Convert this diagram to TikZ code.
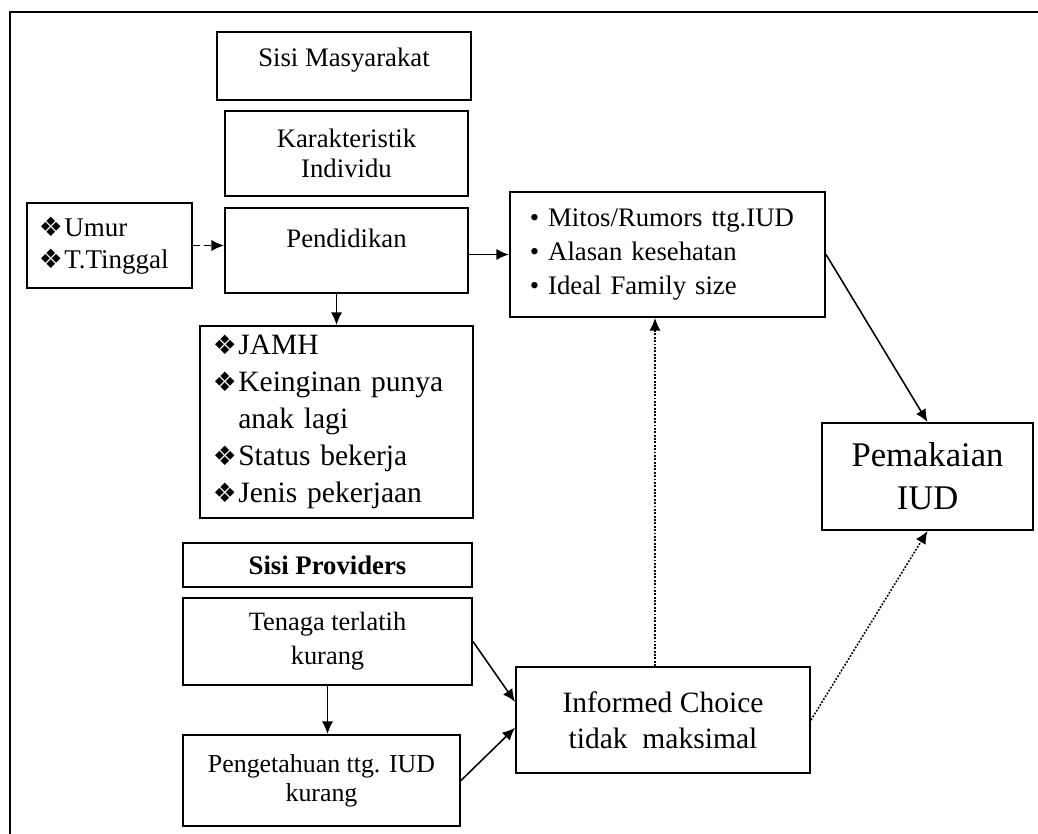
\documentclass[tikz,border=0pt]{standalone}
\usepackage{fontspec}
\setmainfont{Liberation Serif}
\newfontfamily\symfont{DejaVu Sans}
\usetikzlibrary{arrows.meta,positioning}
\newcommand\pix{0.025cm}
\newcommand\dia{{\symfont\fontsize{19}{19}\selectfont\char"2756}\hspace{1pt}}

\begin{document}
\begin{tikzpicture}[x=\pix,y=-\pix,every node/.style={font=\fontsize{19}{23}\selectfont},
  box/.style={draw,line width=1.4pt,align=center,inner sep=0pt},
  lbox/.style={box,align=left},
  arr/.style={-{Latex[length=9pt,width=8pt]},line width=1.1pt},
  dotarr/.style={arr,dash pattern=on 1.3pt off 1.1pt}]
\useasboundingbox (0,0) rectangle (1038,834);
\draw[line width=1.5pt] (10,834) -- (10,12) -- (1038,12);
% sisi masyarakat
\node[box,minimum width=254*\pix,minimum height=68*\pix,text depth=12.5pt] (masy) at (344,66) {Sisi Masyarakat};
\node[box,minimum width=243*\pix,minimum height=85*\pix,font=\fontsize{19}{21.3}\selectfont] (kar) at (346.5,153.5) {Karakteristik\\Individu};
\node[box,minimum width=243*\pix,minimum height=85*\pix,text depth=17pt] (pend) at (346.5,250.5) {Pendidikan};
\node[lbox,text width=3.525cm,inner xsep=0.3cm,minimum height=85*\pix,font=\fontsize{19.2}{22.7}\selectfont] (umur) at (109.5,245.5) {\dia Umur\\\dia T.Tinggal};
\node[lbox,text width=6.875cm,inner xsep=0.5cm,minimum height=125*\pix,font=\fontsize{19}{24}\selectfont] (mitos) at (667.5,254.5) {• Mitos/Rumors ttg.IUD\\• Alasan kesehatan\\• Ideal Family size};
\node[lbox,text width=6.175cm,inner xsep=0.325cm,minimum height=192*\pix,font=\fontsize{21}{26.2}\selectfont] (jamh) at (336.5,422) {\dia JAMH\\\dia Keinginan punya\\\phantom{\dia}anak lagi\\\dia Status bekerja\\\dia Jenis pekerjaan};
% sisi providers
\node[box,minimum width=289*\pix,minimum height=44*\pix,font=\fontsize{19}{23}\selectfont\bfseries] (prov) at (327.5,565) {Sisi Providers};
\node[box,minimum width=289*\pix,minimum height=87*\pix,font=\fontsize{18.8}{24}\selectfont] (tenaga) at (327.5,641.5) {Tenaga terlatih\\kurang};
\node[box,minimum width=277*\pix,minimum height=91*\pix,font=\fontsize{18.4}{20.5}\selectfont] (penget) at (321.5,780.5) {Pengetahuan ttg. IUD\\kurang};
\node[box,minimum width=294*\pix,minimum height=106*\pix,font=\fontsize{21}{25.5}\selectfont] (inform) at (663,720) {Informed Choice\\tidak\ \ maksimal};
\node[box,minimum width=211*\pix,minimum height=107*\pix,font=\fontsize{24.6}{30.5}\selectfont] (pemak) at (927.5,476.5) {Pemakaian\\IUD};
% arrows
\draw[arr,dash pattern=on 5pt off 3pt] (umur.east) -- (umur.east -| pend.west);
\draw[arr] (pend.east |- mitos.west) -- (mitos.west);
\draw[arr] (jamh.north |- pend.south) -- (jamh.north);
\draw[arr] (tenaga.south) -- (tenaga.south |- penget.north);
\draw[arr] (tenaga.east) -- (inform.173);
\draw[arr] (penget.east) -- (inform.183);
\draw[arr] (mitos.east) -- (pemak.north);
\draw[dotarr] (inform.east) -- (pemak.south);
\draw[dotarr] ([xshift=-8*\pix]inform.north) -- ([xshift=-8*\pix]inform.north |- mitos.south);
\end{tikzpicture}
\end{document}
